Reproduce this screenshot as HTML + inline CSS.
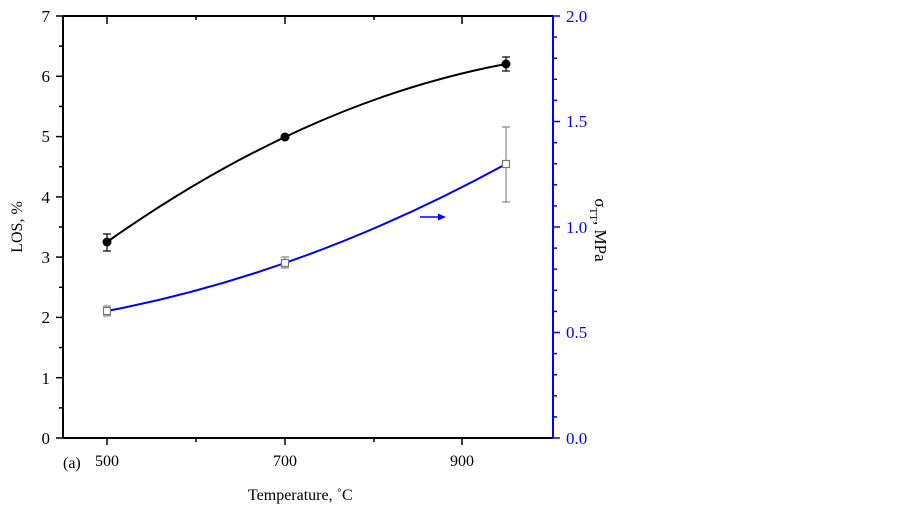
<!DOCTYPE html>
<html><head><meta charset="utf-8"><style>
body{margin:0;background:#fff;}
svg{display:block;font-family:"Liberation Serif",serif;}
</style></head><body>
<svg width="903" height="510" viewBox="0 0 903 510">
<g stroke="#000" stroke-width="2" fill="none">
<line x1="63" y1="16" x2="553" y2="16"/>
<line x1="63" y1="438" x2="553" y2="438"/>
<line x1="63" y1="16" x2="63" y2="438"/>
</g>
<g stroke="#000" stroke-width="1.5">
<line x1="107" y1="438" x2="107" y2="445"/><line x1="285" y1="438" x2="285" y2="445"/><line x1="462" y1="438" x2="462" y2="445"/>
<line x1="196" y1="438" x2="196" y2="442"/><line x1="374" y1="438" x2="374" y2="442"/>
<line x1="107" y1="16" x2="107" y2="24"/><line x1="285" y1="16" x2="285" y2="24"/><line x1="462" y1="16" x2="462" y2="24"/>
<line x1="196" y1="16" x2="196" y2="20"/><line x1="374" y1="16" x2="374" y2="20"/>
<line x1="56" y1="16" x2="63" y2="16"/><line x1="56" y1="76.3" x2="63" y2="76.3"/><line x1="56" y1="136.6" x2="63" y2="136.6"/><line x1="56" y1="196.9" x2="63" y2="196.9"/><line x1="56" y1="257.1" x2="63" y2="257.1"/><line x1="56" y1="317.4" x2="63" y2="317.4"/><line x1="56" y1="377.7" x2="63" y2="377.7"/><line x1="56" y1="438" x2="63" y2="438"/>
<line x1="59" y1="46.1" x2="63" y2="46.1"/><line x1="59" y1="106.4" x2="63" y2="106.4"/><line x1="59" y1="166.7" x2="63" y2="166.7"/><line x1="59" y1="227" x2="63" y2="227"/><line x1="59" y1="287.3" x2="63" y2="287.3"/><line x1="59" y1="347.6" x2="63" y2="347.6"/><line x1="59" y1="407.9" x2="63" y2="407.9"/>
</g>
<g stroke="#00f" stroke-width="2"><line x1="553" y1="16" x2="553" y2="438"/></g>
<g stroke="#00f" stroke-width="1.5">
<line x1="553" y1="16" x2="560" y2="16"/><line x1="553" y1="121.5" x2="560" y2="121.5"/><line x1="553" y1="227" x2="560" y2="227"/><line x1="553" y1="332.5" x2="560" y2="332.5"/><line x1="553" y1="438" x2="560" y2="438"/>
<line x1="553" y1="37.1" x2="557" y2="37.1"/><line x1="553" y1="58.2" x2="557" y2="58.2"/><line x1="553" y1="79.3" x2="557" y2="79.3"/><line x1="553" y1="100.4" x2="557" y2="100.4"/>
<line x1="553" y1="142.6" x2="557" y2="142.6"/><line x1="553" y1="163.7" x2="557" y2="163.7"/><line x1="553" y1="184.8" x2="557" y2="184.8"/><line x1="553" y1="205.9" x2="557" y2="205.9"/>
<line x1="553" y1="248.1" x2="557" y2="248.1"/><line x1="553" y1="269.2" x2="557" y2="269.2"/><line x1="553" y1="290.3" x2="557" y2="290.3"/><line x1="553" y1="311.4" x2="557" y2="311.4"/>
<line x1="553" y1="353.6" x2="557" y2="353.6"/><line x1="553" y1="374.7" x2="557" y2="374.7"/><line x1="553" y1="395.8" x2="557" y2="395.8"/><line x1="553" y1="416.9" x2="557" y2="416.9"/>
</g>
<g font-size="17" text-anchor="end" fill="#000">
<text x="50" y="22">7</text><text x="50" y="82">6</text><text x="50" y="142">5</text><text x="50" y="203">4</text><text x="50" y="263">3</text><text x="50" y="323">2</text><text x="50" y="384">1</text><text x="50" y="444">0</text>
</g>
<g font-size="16" text-anchor="middle" fill="#000">
<text x="107" y="466">500</text><text x="285" y="466">700</text><text x="462" y="466">900</text>
</g>
<g font-size="17" fill="#00f">
<text x="566" y="22">2.0</text><text x="566" y="127">1.5</text><text x="566" y="233">1.0</text><text x="566" y="338">0.5</text><text x="566" y="444">0.0</text>
</g>
<text x="248" y="500" font-size="16">Temperature, ˚C</text>
<text x="63" y="468" font-size="16">(a)</text>
<text transform="translate(22,227) rotate(-90)" font-size="16" text-anchor="middle">LOS, %</text>
<text transform="translate(595,230) rotate(90)" font-size="17" text-anchor="middle">σ<tspan font-size="11" dy="5">TT</tspan><tspan dy="-5">, MPa</tspan></text>
<path d="M107,242 Q306.5,101.2 506,64" stroke="#000" stroke-width="2" fill="none"/>
<path d="M107,311 Q306.5,273.1 506,164" stroke="#00f" stroke-width="2" fill="none"/>
<g stroke="#000" stroke-width="1.2">
<line x1="107" y1="234" x2="107" y2="251"/><line x1="103" y1="234" x2="111" y2="234"/><line x1="103" y1="251" x2="111" y2="251"/>
<line x1="506" y1="57" x2="506" y2="71"/><line x1="502" y1="57" x2="510" y2="57"/><line x1="502" y1="71" x2="510" y2="71"/>
</g>
<g stroke="#888" stroke-width="1.2">
<line x1="506" y1="127" x2="506" y2="202"/><line x1="502" y1="127" x2="510" y2="127"/><line x1="502" y1="202" x2="510" y2="202"/>
<line x1="285" y1="257" x2="285" y2="268"/><line x1="281" y1="257" x2="289" y2="257"/><line x1="281" y1="268" x2="289" y2="268"/>
<line x1="107" y1="306" x2="107" y2="316"/><line x1="103" y1="306" x2="111" y2="306"/><line x1="103" y1="316" x2="111" y2="316"/>
</g>
<g fill="#000"><circle cx="107" cy="242" r="4.5"/><circle cx="285" cy="137" r="4.5"/><circle cx="506" cy="64" r="4.5"/></g>
<g fill="#fff" stroke="#777" stroke-width="1.2">
<rect x="103.5" y="307.5" width="7" height="7"/><rect x="281.5" y="259.5" width="7" height="7"/><rect x="502.5" y="160.5" width="7" height="7"/>
</g>
<line x1="420" y1="217" x2="440" y2="217" stroke="#00f" stroke-width="1.5"/>
<polygon points="438,213.5 446,217 438,220.5" fill="#00f"/>
</svg>
</body></html>
